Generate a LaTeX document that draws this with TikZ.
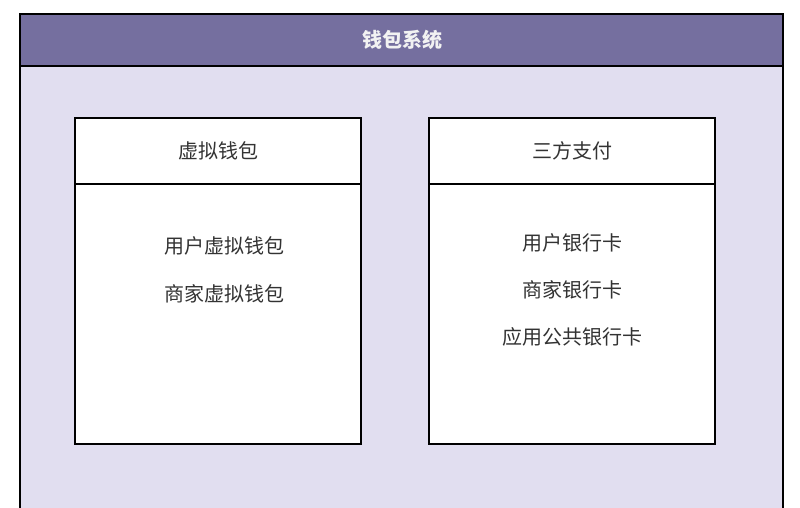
\documentclass[tikz,border=0pt]{standalone}
\usepackage{fontspec}
\newfontfamily\cjk{Noto Sans CJK SC}
\definecolor{hdr}{HTML}{756F9F}
\definecolor{bodybg}{HTML}{E1DEF0}
\definecolor{txt}{HTML}{333333}
\definecolor{ttl}{HTML}{F2F2F2}
\tikzset{
  frame/.style={draw=black, line width=1.3pt},
  item/.style={font=\cjk\fontsize{20}{24}\selectfont, text=txt, inner sep=0pt},
  title/.style={font=\cjk\bfseries\fontsize{20}{24}\selectfont, text=ttl, inner sep=0pt}
}
\begin{document}
\begin{tikzpicture}[x=1pt,y=-1pt]
\useasboundingbox (0,0) rectangle (800,508);
\fill[white] (0,0) rectangle (800,508);
\begin{scope}
\clip (0,0) rectangle (800,508);
\fill[bodybg] (20,66) rectangle (783,530);
\fill[hdr] (20,14) rectangle (783,66);
\draw[frame] (20,14) rectangle (783,530);
\draw[frame] (20,66) -- (783,66);
\end{scope}
\node[title] (sys) at (402,40) {钱包系统};
% left box
\draw[frame, fill=white] (75,118) rectangle (361,444);
\draw[frame] (75,184) -- (361,184);
\node[item] (vw) at (218,151) {虚拟钱包};
\node[item] (uvw) at (224,246) {用户虚拟钱包};
\node[item] (mvw) at (224,294) {商家虚拟钱包};
% right box
\draw[frame, fill=white] (429,118) rectangle (715,444);
\draw[frame] (429,184) -- (715,184);
\node[item] (tp) at (572,151) {三方支付};
\node[item] (ub) at (572,243) {用户银行卡};
\node[item] (mb) at (572,290) {商家银行卡};
\node[item] (ab) at (572,337) {应用公共银行卡};
\end{tikzpicture}
\end{document}
